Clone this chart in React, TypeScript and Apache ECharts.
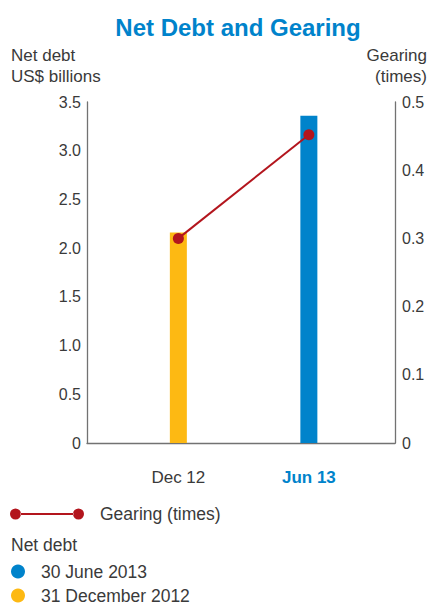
import React, { useEffect, useRef } from "react";
import * as echarts from "echarts";

// Period positions on the horizontal axis and their labels
const periods = ["Dec 12", "Jun 13"];
const periodPos = [0, 1];

// Net debt, US$ billions
const netDebtDec12 = 2.16;
const netDebtJun13 = 3.36;

// Gearing (times)
const gearing = [0.3, 0.452];

// Tick values
const leftTicks = { min: 0, max: 3.5, interval: 0.5 };
const rightTicks = { min: 0, max: 0.5, interval: 0.1 };

const FONT = "'Liberation Sans', Arial, sans-serif";
const BLUE = "#0083CB";
const YELLOW = "#FDB913";
const RED = "#B3151D";
const TEXT = "#3a3a3a";
const AXIS = "#727272";

// legend glyph: two dots joined by a line
const lineIcon =
  "path://M0,5.5a5.5,5.5 0 1,0 11,0a5.5,5.5 0 1,0 -11,0Z" +
  "M63,5.5a5.5,5.5 0 1,0 11,0a5.5,5.5 0 1,0 -11,0Z" +
  "M10.5,4.5L63.5,4.5L63.5,6.5L10.5,6.5Z";

const legendText = {
  fontSize: 17.5,
  color: TEXT,
  fontFamily: FONT,
  padding: [0, 0, 0, 11],
};

const dotLegend = (name: string, top: number) => ({
  data: [{ name, icon: "circle" }],
  left: 11,
  top,
  padding: 0,
  itemWidth: 14,
  itemHeight: 14,
  selectedMode: false,
  textStyle: legendText,
});

export default function App() {
  const ref = useRef<HTMLDivElement>(null);

  useEffect(() => {
    if (!ref.current) return;
    const chart = echarts.init(ref.current, null, { renderer: "svg" });
    chart.setOption({
      animation: false,
      textStyle: { fontFamily: FONT },
      grid: { left: 87, right: 36, top: 102, bottom: 161, containLabel: false },
      graphic: [
        {
          type: "text",
          x: 238,
          y: 27,
          style: {
            text: "Net Debt and Gearing",
            fill: BLUE,
            font: `bold 24px ${FONT}`,
            align: "center",
            verticalAlign: "middle",
          },
        },
        {
          type: "text",
          x: 11,
          y: 45,
          style: {
            text: "Net debt\nUS$ billions",
            fill: TEXT,
            font: `17px ${FONT}`,
            lineHeight: 21,
            align: "left",
            verticalAlign: "top",
          },
        },
        {
          type: "text",
          x: 427,
          y: 45,
          style: {
            text: "Gearing\n(times)",
            fill: TEXT,
            font: `17px ${FONT}`,
            lineHeight: 21,
            align: "right",
            verticalAlign: "top",
          },
        },
        {
          type: "text",
          x: 11,
          y: 545,
          style: {
            text: "Net debt",
            fill: TEXT,
            font: `17.5px ${FONT}`,
            align: "left",
            verticalAlign: "middle",
          },
        },
      ],
      legend: [
        {
          data: [{ name: "Gearing (times)", icon: lineIcon }],
          left: 10,
          top: 505,
          padding: 0,
          itemWidth: 74,
          itemHeight: 11,
          selectedMode: false,
          textStyle: legendText,
        },
        dotLegend("30 June 2013", 562.5),
        dotLegend("31 December 2012", 586.5),
      ],
      xAxis: {
        type: "value",
        min: -0.7,
        max: 1.66,
        splitLine: { show: false },
        axisTick: { show: false },
        axisLine: { show: true, onZero: false, lineStyle: { color: AXIS, width: 1.3 } },
        axisLabel: {
          customValues: periodPos,
          margin: 26,
          formatter: (v: number) => {
            const i = periodPos.indexOf(v);
            if (i < 0) return "";
            return i === periodPos.length - 1 ? `{b|${periods[i]}}` : `{a|${periods[i]}}`;
          },
          rich: {
            a: { fontSize: 17, color: TEXT, fontWeight: "normal", fontFamily: FONT },
            b: { fontSize: 17, color: BLUE, fontWeight: "bold", fontFamily: FONT },
          },
        },
      },
      yAxis: [
        {
          type: "value",
          position: "left",
          ...leftTicks,
          splitLine: { show: false },
          axisTick: { show: false },
          axisLine: { show: true, onZero: false, lineStyle: { color: AXIS, width: 1.3 } },
          axisLabel: {
            margin: 6,
            fontSize: 16,
            color: TEXT,
            fontFamily: FONT,
            formatter: (v: number) => (v === 0 ? "0" : v.toFixed(1)),
          },
        },
        {
          type: "value",
          position: "right",
          ...rightTicks,
          splitLine: { show: false },
          axisTick: { show: false },
          axisLine: { show: true, onZero: false, lineStyle: { color: AXIS, width: 1.3 } },
          axisLabel: {
            margin: 7,
            fontSize: 16,
            color: TEXT,
            fontFamily: FONT,
            formatter: (v: number) => (v === 0 ? "0" : v.toFixed(1)),
          },
        },
      ],
      series: [
        {
          name: "30 June 2013",
          type: "bar",
          barWidth: 17,
          barGap: "-100%",
          itemStyle: { color: BLUE },
          data: [[periodPos[1], netDebtJun13]],
        },
        {
          name: "31 December 2012",
          type: "bar",
          barWidth: 17,
          barGap: "-100%",
          itemStyle: { color: YELLOW },
          data: [[periodPos[0], netDebtDec12]],
        },
        {
          name: "Gearing (times)",
          type: "line",
          yAxisIndex: 1,
          symbol: "circle",
          symbolSize: 11,
          lineStyle: { color: RED, width: 2 },
          itemStyle: { color: RED },
          data: periodPos.map((p, i) => [p, gearing[i]]),
          z: 5,
        },
      ],
    });
    return () => chart.dispose();
  }, []);

  return (
    <div
      ref={ref}
      style={{ position: "fixed", left: 0, top: 0, width: 431, height: 604, background: "#fff" }}
    />
  );
}
